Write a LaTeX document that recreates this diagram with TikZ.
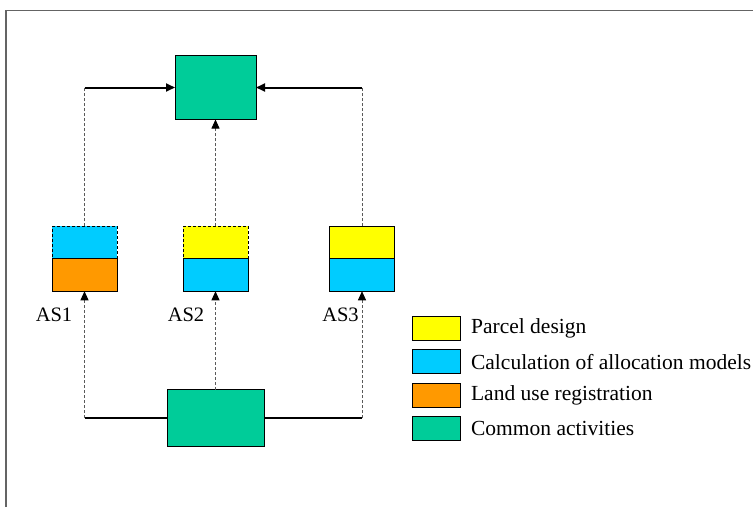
\documentclass[tikz,border=0pt]{standalone}
\usepackage{fontspec}
\setmainfont{Liberation Serif}
\usepackage{xcolor}
\definecolor{ParcelYellow}{RGB}{255, 255, 0}
\definecolor{AllocBlue}{RGB}{0, 204, 255}
\definecolor{LanduseOrange}{RGB}{255, 153, 0}
\definecolor{CommonGreen}{RGB}{0, 204, 153}
\definecolor{FrameGray}{RGB}{100, 100, 100}
\usepackage{tikz}
\usetikzlibrary{arrows.meta, positioning}

\begin{document}
\begin{tikzpicture}[
        x=1pt, y=-1pt,
        activity/.style={rectangle, draw=black, line width=0.8pt, minimum width=65pt, minimum height=32.5pt, inner sep=0pt, outer sep=0pt},
        optional/.style={activity, densely dashed},
        common/.style={activity, fill=CommonGreen},
        flow/.style={-{Triangle[length=9pt, width=8pt, color=black]}, densely dashed, draw=black!65, line width=0.8pt},
        link/.style={line width=2pt, black},
        key/.style={rectangle, draw=black, line width=0.8pt, minimum width=48pt, minimum height=24pt, inner sep=0pt},
        keytext/.style={font=\fontsize{21.5}{24}\selectfont, inner sep=0pt, anchor=west},
        tag/.style={font=\fontsize{20.5}{24}\selectfont, inner sep=0pt}
    ]
        \useasboundingbox (0,0) rectangle (753,507);
        % Frame
        \draw[FrameGray, line width=1.5pt] (6,507) -- (6,10.5) -- (753,10.5);

        % Nodes
        \node[common, minimum width=81pt, minimum height=64pt] (target) at (215.5,87.5) {};
        \node[optional, fill=AllocBlue] (as1top) at (84.5,242.5) {};
        \node[activity, fill=LanduseOrange, below=0pt of as1top] (as1bot) {};
        \node[optional, fill=ParcelYellow] (as2top) at (215.5,242.5) {};
        \node[activity, fill=AllocBlue, below=0pt of as2top] (as2bot) {};
        \node[activity, fill=ParcelYellow] (as3top) at (362,242.5) {};
        \node[activity, fill=AllocBlue, below=0pt of as3top] (as3bot) {};
        \node[common, minimum width=97pt, minimum height=57pt] (source) at (215.5,418) {};

        \node[tag] (as1name) at (54,315) {AS1};
        \node[tag] (as2name) at (186,315) {AS2};
        \node[tag] (as3name) at (340.5,315) {AS3};

        % Arrows
        \coordinate (up1) at (as1top.north |- target.west);
        \coordinate (up3) at (as3top.north |- target.east);
        \draw[flow, -] (as1top.north) -- (up1);
        \draw[link, -{Triangle[length=9pt, width=8pt]}] (up1) -- (target.west);
        \draw[flow] (as2top.north) -- (target.south);
        \draw[flow, -] (as3top.north) -- (up3);
        \draw[link, -{Triangle[length=9pt, width=8pt]}] (up3) -- (target.east);

        \coordinate (down1) at (as1bot.south |- source.west);
        \coordinate (down3) at (as3bot.south |- source.east);
        \draw[link] (source.west) -- (down1);
        \draw[flow] (down1) -- (as1bot.south);
        \draw[flow] (source.north) -- (as2bot.south);
        \draw[link] (source.east) -- (down3);
        \draw[flow] (down3) -- (as3bot.south);

        % Legend
        \node[key, fill=ParcelYellow] (keyparcel) at (436.5,328) {};
        \node[key, fill=AllocBlue, below=9pt of keyparcel] (keyalloc) {};
        \node[key, fill=LanduseOrange, below=8.5pt of keyalloc] (keyland) {};
        \node[key, fill=CommonGreen, below=8.5pt of keyland] (keycommon) {};
        \node[keytext, right=10pt of keyparcel] (txtparcel) {Parcel design};
        \node[keytext, right=10pt of keyalloc] (txtalloc) {Calculation of allocation models};
        \node[keytext, right=10pt of keyland] (txtland) {Land use registration};
        \node[keytext, right=10pt of keycommon] (txtcommon) {Common activities};
    \end{tikzpicture}
\end{document}
